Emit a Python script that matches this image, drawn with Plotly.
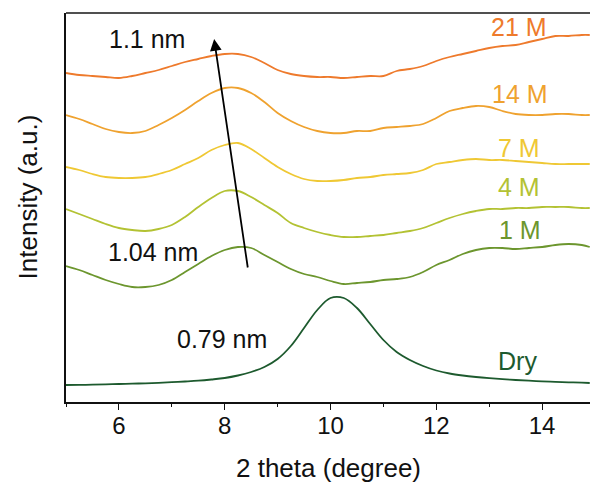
import plotly.graph_objects as go

# 2-theta sampling grid (degree)
two_theta = [5.00, 5.25, 5.50, 5.75, 6.00, 6.25, 6.50, 6.75, 7.00, 7.25,
             7.50, 7.75, 8.00, 8.25, 8.50, 8.75, 9.00, 9.25, 9.50, 9.75,
             10.00, 10.25, 10.50, 10.75, 11.00, 11.25, 11.50, 11.75, 12.00, 12.25,
             12.50, 12.75, 13.00, 13.25, 13.50, 13.75, 14.00, 14.25, 14.50, 14.75,
             14.90]

# Stacked XRD intensities (a.u., offset per sample)
i_21m = [329, 327, 326, 325, 324, 326, 329, 332, 336, 340,
         343, 346, 348, 348, 345, 339, 332, 328, 326, 325,
         325, 324, 325, 326, 326, 331, 333, 336, 341, 345,
         348, 351, 354, 356, 357, 360, 363, 366, 366, 367,
         367]
i_14m = [287, 283, 278, 273, 270, 269, 271, 277, 284, 292,
         301, 309, 314, 314, 309, 300, 289, 281, 275, 271,
         269, 269, 271, 271, 274, 275, 276, 278, 284, 291,
         294, 296, 295, 291, 288, 287, 287, 288, 288, 287,
         287]
i_7m = [235, 232, 228, 225, 224, 224, 225, 228, 232, 238,
        244, 252, 257, 259, 253, 244, 235, 228, 223, 221,
        221, 222, 224, 225, 227, 228, 229, 232, 238, 240,
        242, 243, 242, 242, 241, 240, 239, 238, 238, 238,
        238]
i_4m = [193, 188, 183, 178, 174, 172, 171, 173, 177, 185,
        195, 204, 211, 211, 205, 197, 189, 179, 174, 170,
        167, 165, 165, 166, 167, 169, 171, 174, 179, 184,
        188, 191, 193, 193, 194, 194, 195, 195, 195, 194,
        194]
i_1m = [136, 132, 127, 122, 118, 115, 115, 117, 122, 130,
        138, 146, 152, 155, 154, 147, 140, 133, 128, 125,
        121, 118, 119, 120, 122, 123, 125, 130, 137, 142,
        148, 152, 154, 154, 153, 154, 155, 157, 158, 157,
        155]
i_dry = [17.0, 17.1, 17.3, 17.6, 18.0, 18.3, 18.7, 19.2, 19.8, 20.5,
         21.3, 22.5, 24.0, 26.5, 30.0, 35.0, 43.0, 56.0, 74.0, 92.0,
         104.0, 104.0, 94.0, 78.0, 62.0, 50.0, 42.0, 36.0, 31.5, 28.5,
         26.5, 25.0, 23.8, 22.8, 22.0, 21.3, 20.7, 20.2, 19.7, 19.3,
         19.0]

series_names = ["21 M", "14 M", "7 M", "4 M", "1 M", "Dry"]
series_values = [i_21m, i_14m, i_7m, i_4m, i_1m, i_dry]
series_colors = ["#EE7A2C", "#EFA22F", "#EFC834", "#B3C233", "#6C962E", "#1D5A2E"]

# label anchor positions (2theta, intensity)
label_x = [13.56, 13.58, 13.56, 13.56, 13.58, 13.53]
label_y = [375, 308, 254, 215, 172, 41]

# d-spacing notes
d_text = ["1.1 nm", "1.04 nm", "0.79 nm"]
d_x = [6.53, 6.64, 7.95]
d_y = [363, 150, 63]

# arrow showing the peak shift (tail -> head)
arrow_tail = (8.44, 133)
arrow_head = (7.80, 363)

FONT = "Arial, 'Liberation Sans', sans-serif"

fig = go.Figure()
for name, vals, col in zip(series_names, series_values, series_colors):
    fig.add_trace(go.Scatter(
        x=two_theta, y=vals, mode="lines", name=name,
        line=dict(color=col, width=1.8, shape="spline", smoothing=1.0),
        showlegend=False,
    ))

annotations = []
for name, lx, ly, col in zip(series_names, label_x, label_y, series_colors):
    annotations.append(dict(x=lx, y=ly, xref="x", yref="y", text=name,
                            showarrow=False, xanchor="center", yanchor="middle",
                            font=dict(family=FONT, size=25, color=col)))
for t, tx, ty in zip(d_text, d_x, d_y):
    annotations.append(dict(x=tx, y=ty, xref="x", yref="y", text=t,
                            showarrow=False, xanchor="center", yanchor="middle",
                            font=dict(family=FONT, size=25, color="#111111")))

annotations.append(dict(
    x=arrow_head[0], y=arrow_head[1], xref="x", yref="y",
    ax=arrow_tail[0], ay=arrow_tail[1], axref="x", ayref="y",
    text="", showarrow=True, arrowhead=2, arrowsize=1.3, arrowwidth=1.8,
    arrowcolor="#000000",
))

# axis titles
annotations.append(dict(x=0.5, y=-0.1697, xref="paper", yref="paper",
                        text="2 theta (degree)", showarrow=False,
                        xanchor="center", yanchor="middle",
                        font=dict(family=FONT, size=26, color="#111111")))
annotations.append(dict(x=-0.0725, y=0.526, xref="paper", yref="paper",
                        text="Intensity (a.u.)", showarrow=False, textangle=-90,
                        xanchor="center", yanchor="middle",
                        font=dict(family=FONT, size=26, color="#111111")))

fig.update_layout(
    width=590, height=482,
    margin=dict(l=66, r=0, t=13, b=80),
    paper_bgcolor="white", plot_bgcolor="white",
    annotations=annotations,
    shapes=[dict(type="line", xref="paper", yref="paper", x0=0, x1=1, y0=1, y1=1,
                 line=dict(color="#505050", width=2))],
)
fig.update_xaxes(
    range=[5, 14.905], showgrid=False, zeroline=False,
    showline=True, linecolor="#111111", linewidth=1.6,
    ticks="outside", ticklen=6, tickwidth=1.4, tickcolor="#111111",
    tick0=0, dtick=2, ticklabelstandoff=-5,
    minor=dict(ticks="outside", ticklen=3, tickwidth=1.2, tickcolor="#111111",
               tick0=5, dtick=1),
    tickfont=dict(family=FONT, size=24, color="#111111"),
)
fig.update_yaxes(
    range=[0, 389], showgrid=False, zeroline=False,
    showline=True, linecolor="#111111", linewidth=1.6,
    showticklabels=False, ticks="",
)

fig.write_html("out.html")
